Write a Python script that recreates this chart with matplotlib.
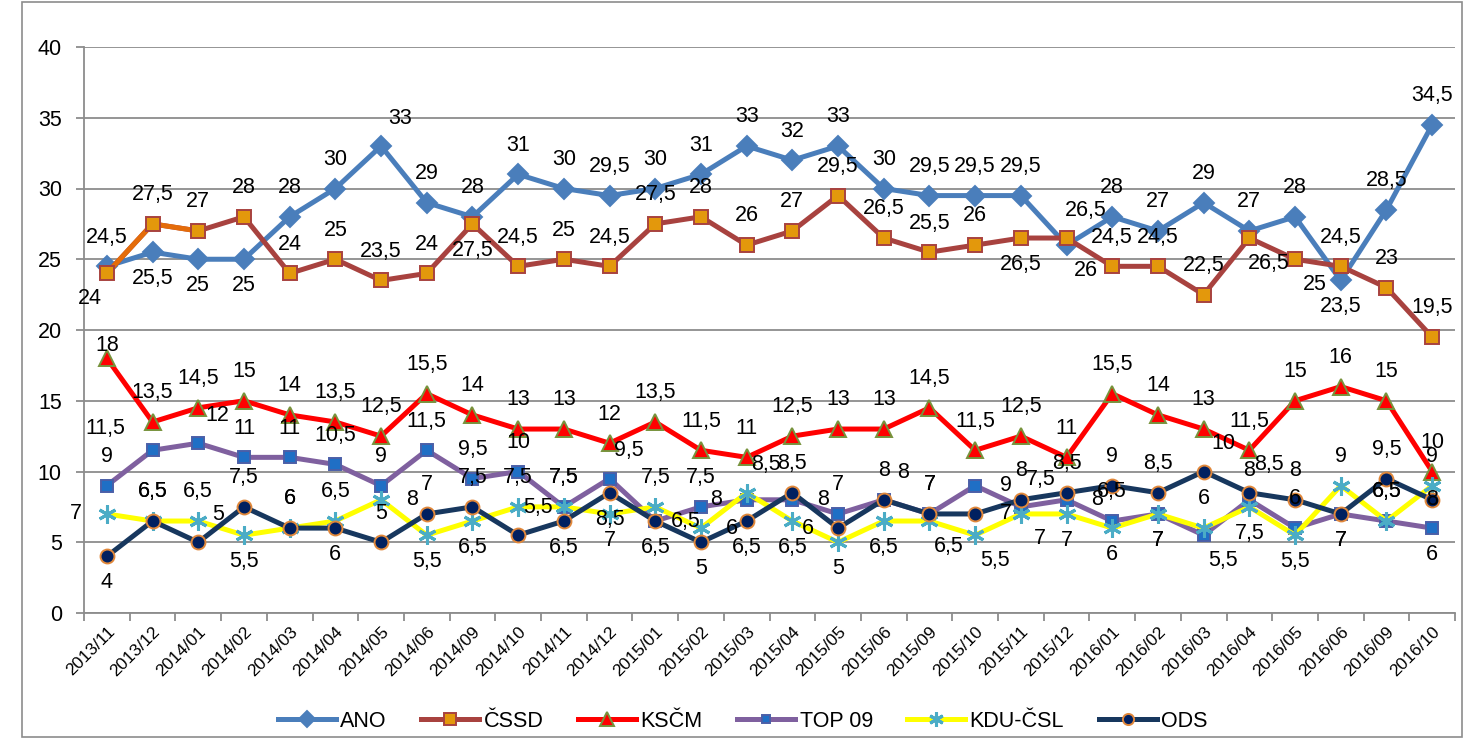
import matplotlib.pyplot as plt
from matplotlib.lines import Line2D
from matplotlib.patches import Rectangle

plt.rcParams['font.family'] = ['Liberation Sans', 'DejaVu Sans']

# survey months
months = ['2013/11', '2013/12', '2014/01', '2014/02', '2014/03', '2014/04', '2014/05',
          '2014/06', '2014/09', '2014/10', '2014/11', '2014/12', '2015/01', '2015/02',
          '2015/03', '2015/04', '2015/05', '2015/06', '2015/09', '2015/10', '2015/11',
          '2015/12', '2016/01', '2016/02', '2016/03', '2016/04', '2016/05', '2016/06',
          '2016/09', '2016/10']

ano = [24.5, 25.5, 25, 25, 28, 30, 33, 29, 28, 31, 30, 29.5, 30, 31, 33, 32, 33, 30,
       29.5, 29.5, 29.5, 26, 28, 27, 29, 27, 28, 23.5, 28.5, 34.5]
cssd = [24, 27.5, 27, 28, 24, 25, 23.5, 24, 27.5, 24.5, 25, 24.5, 27.5, 28, 26, 27, 29.5,
        26.5, 25.5, 26, 26.5, 26.5, 24.5, 24.5, 22.5, 26.5, 25, 24.5, 23, 19.5]
kscm = [18, 13.5, 14.5, 15, 14, 13.5, 12.5, 15.5, 14, 13, 13, 12, 13.5, 11.5, 11, 12.5,
        13, 13, 14.5, 11.5, 12.5, 11, 15.5, 14, 13, 11.5, 15, 16, 15, 10]
top09 = [9, 11.5, 12, 11, 11, 10.5, 9, 11.5, 9.5, 10, 7.5, 9.5, 6.5, 7.5, 8, 8, 7, 8, 7,
         9, 7.5, 8, 6.5, 7, 5.5, 8, 6, 7, 6.5, 6]
kdu = [7, 6.5, 6.5, 5.5, 6, 6.5, 8, 5.5, 6.5, 7.5, 7.5, 7, 7.5, 6, 8.5, 6.5, 5, 6.5, 6.5,
       5.5, 7, 7, 6, 7, 6, 7.5, 5.5, 9, 6.5, 9]
ods = [4, 6.5, 5, 7.5, 6, 6, 5, 7, 7.5, 5.5, 6.5, 8.5, 6.5, 5, 6.5, 8.5, 6, 8, 7, 7, 8,
       8.5, 9, 8.5, 10, 8.5, 8, 7, 9.5, 8]

# where each data label sits relative to its point
ano_pos = ['a', 'b', 'b', 'b', 'a', 'a', 'ar', 'a', 'a', 'a', 'a', 'a', 'a', 'a', 'a',
           'a', 'a', 'a', 'a', 'a', 'a', 'br', 'a', 'a', 'a', 'a', 'a', 'b', 'a', 'a']
cssd_pos = ['bl', 'a', 'a', 'a', 'a', 'a', 'a', 'a', 'b', 'a', 'a', 'a', 'a', 'a', 'a',
            'a', 'a', 'a', 'a', 'a', 'b', 'ar', 'a', 'a', 'a', 'br', 'br', 'a', 'a', 'a']
kscm_pos = ['as'] + ['a'] * 29
top09_pos = ['a', 'fl', 'ar', 'a', 'a', 'a', 'a', 'a', 'a', 'a', 'a', 'ar', 'r', 'a', 'l',
             'r', 'a', 'ar', 'a', 'r', 'ar', 'r', 'a', 'b', 'br', 'a', 'a', 'b', 'a', 'b']
kdu_pos = ['l', 'a', 'a', 'b', 'a', 'a', 'r', 'b', 'b', 'a', 'a', 'b', 'a', 'r', 'ar',
           'b', 'b', 'b', 'br', 'br', 'br', 'b', 'b', 'b', 'a', 'b', 'b', 'a', 'a', 'a']
ods_pos = ['b', 'a', 'ar', 'a', 'a', 'b', 'a', 'a', 'a', 'ar', 'b', 'b', 'b', 'b', 'b',
           'a', 'l', 'a', 'a', 'r', 'a', 'a', 'a', 'a', 'ar', 'ar', 'a', 'b', 'a', 'c']

offsets = {'a': (0, 21), 'as': (0, 9), 'b': (0, -19), 'l': (-22, 0), 'r': (22, 0),
           'ar': (14, 20), 'al': (-14, 20), 'br': (14, -18), 'bl': (-12, -18),
           'fl': (-34, 16), 'c': (0, 0)}

series = [
    # name, values, label pos, line colour, marker, size, face, edge
    ('ANO', ano, ano_pos, '#4A7EBB', 'D', 10, '#4A7EBB', '#4A7EBB'),
    ('ČSSD', cssd, cssd_pos, '#A8423F', 's', 10, '#E3980C', '#A8423F'),
    ('KSČM', kscm, kscm_pos, '#FF0000', '^', 12, '#FF0000', '#77933C'),
    ('TOP 09', top09, top09_pos, '#7F609F', 's', 8, '#1F6FC5', '#4B5FA8'),
    ('KDU-ČSL', kdu, kdu_pos, '#FFFF00', (6, 2, 0), 13, '#4BACC6', '#4BACC6'),
    ('ODS', ods, ods_pos, '#17375E', 'o', 10, '#002060', '#E0873A'),
]

fig = plt.figure(figsize=(14.65, 7.38), dpi=100)
ax = fig.add_axes([84 / 1465, 1 - 613 / 738, 1371 / 1465, 566 / 738])

x = list(range(len(months)))
handles = []
for k, (name, vals, pos, lc, mk, ms, fc, ec) in enumerate(series):
    z = 3 + k
    ax.plot(x, vals, color=lc, lw=3.6, zorder=z, solid_joinstyle='round')
    if name == 'ČSSD':
        # first segments drawn in orange
        ax.plot(x[:3], vals[:3], color='#E46C0A', lw=3.6, zorder=z)
    mew = 2.2 if name == 'KDU-ČSL' else 1.4
    ax.plot(x, vals, ls='none', marker=mk, ms=ms, mfc=fc, mec=ec, mew=mew, zorder=z)
    handles.append(Line2D([], [], color=lc, lw=3.6, marker=mk, ms=ms * 0.8, mfc=fc,
                          mec=ec, mew=mew))
    for i, v in enumerate(vals):
        dx, dy = offsets[pos[i]]
        ax.annotate(f'{v:g}'.replace('.', ','), (i, v), xytext=(dx, dy),
                    textcoords='offset points', ha='center', va='center',
                    fontsize=15.5, color='black', zorder=20)

ax.set_xlim(-0.5, len(months) - 0.5)
ax.set_ylim(0, 40)
ax.set_yticks(range(0, 41, 5))
ax.yaxis.grid(True, color='#8C8C8C', lw=1.3)
ax.set_axisbelow(True)
ax.set_xticks(x)
ax.set_xticklabels(months, rotation=45, ha='right', rotation_mode='anchor', fontsize=12.5)
ax.set_xticks([i - 0.5 for i in range(len(months) + 1)], minor=True)
ax.tick_params(axis='x', which='major', length=0, pad=8)
ax.tick_params(axis='x', which='minor', length=6, color='#8C8C8C', width=1.3)
ax.tick_params(axis='y', length=6, color='#8C8C8C', width=1.3, labelsize=15.5, pad=10)
for side in ['top', 'right']:
    ax.spines[side].set_visible(False)
for side in ['left', 'bottom']:
    ax.spines[side].set_color('#8C8C8C')
    ax.spines[side].set_linewidth(1.3)

fig.legend(handles, [s[0] for s in series], loc='lower center', ncol=6,
           bbox_to_anchor=(0.507, -0.018), frameon=False, fontsize=15.5,
           handlelength=2.7, columnspacing=1.6, handletextpad=0.2)

fig.add_artist(Rectangle((22 / 1465, 0.002), 1 - 22 / 1465 - 0.002, 0.995,
                         transform=fig.transFigure, fill=False, ec='#8C8C8C', lw=1.2))

fig.savefig('out.png', dpi=100)
